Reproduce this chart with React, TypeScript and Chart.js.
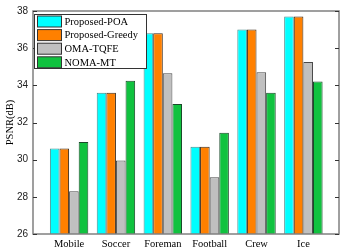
import React, { useEffect, useRef } from 'react';
import { Chart, registerables } from 'chart.js';

Chart.register(...registerables);

const categories = ['Mobile', 'Soccer', 'Foreman', 'Football', 'Crew', 'Ice'];
const seriesLabels = ['Proposed-POA', 'Proposed-Greedy', 'OMA-TQFE', 'NOMA-MT'];
const proposedPOA = [30.6, 33.6, 36.8, 30.7, 37.0, 37.7];
const proposedGreedy = [30.6, 33.6, 36.8, 30.7, 37.0, 37.7];
const omaTQFE = [28.3, 29.95, 34.65, 29.05, 34.7, 35.25];
const nomaMT = [30.95, 34.25, 33.0, 31.45, 33.6, 34.2];
const yTicks = [26, 28, 30, 32, 34, 36, 38];

const colors = ['#00FFFF', '#FF8000', '#C0C0C0', '#10C23F'];
const borders = ['#4a8a8a', '#3a2a1a', '#4a4a4a', '#1a4a2a'];

const framePlugin = {
  id: 'frameAndLegend',
  afterDatasetsDraw(chart: any) {
    const { ctx, chartArea, scales } = chart;
    const { left, right, top, bottom } = chartArea;
    ctx.save();
    // frame
    ctx.strokeStyle = '#808080';
    ctx.lineWidth = 1.5;
    ctx.strokeRect(left, top, right - left, bottom - top);
    // inward ticks
    ctx.strokeStyle = '#333';
    ctx.lineWidth = 1;
    yTicks.forEach((v) => {
      const y = Math.round(scales.y.getPixelForValue(v)) + 0.5;
      ctx.beginPath();
      ctx.moveTo(left, y);
      ctx.lineTo(left + 4, y);
      ctx.moveTo(right, y);
      ctx.lineTo(right - 4, y);
      ctx.stroke();
    });
    // legend
    const lx = left + 1.5;
    const ly = top + 3.5;
    const lw = 112;
    const lh = 54;
    ctx.fillStyle = '#fff';
    ctx.fillRect(lx, ly, lw, lh);
    ctx.strokeStyle = '#333';
    ctx.lineWidth = 1;
    ctx.strokeRect(lx, ly, lw, lh);
    ctx.font = '10.5px "Liberation Serif"';
    ctx.textBaseline = 'middle';
    ctx.textAlign = 'left';
    chart.data.datasets.forEach((ds: any, i: number) => {
      const sy = ly + 1.5 + i * 13.6;
      ctx.fillStyle = ds.backgroundColor;
      ctx.fillRect(lx + 3, sy, 24, 11);
      ctx.strokeStyle = '#333';
      ctx.strokeRect(lx + 3, sy, 24, 11);
      ctx.fillStyle = '#000';
      ctx.fillText(ds.label, lx + 30, sy + 6);
    });
    ctx.restore();
  },
};

export default function App() {
  const ref = useRef<HTMLCanvasElement | null>(null);
  useEffect(() => {
    if (!ref.current) return;
    const series = [proposedPOA, proposedGreedy, omaTQFE, nomaMT];
    const chart = new Chart(ref.current, {
      type: 'bar',
      data: {
        datasets: series.map((vals, k) => ({
          label: seriesLabels[k],
          data: vals.map((y, i) => ({ x: i, y })),
          backgroundColor: colors[k],
          borderColor: borders[k],
          borderWidth: 1,
          base: 26,
          barPercentage: 1,
          categoryPercentage: 0.82,
        })),
      },
      options: {
        animation: false,
        responsive: false,
        devicePixelRatio: 1,
        layout: { padding: { top: 5, right: 4, left: 0, bottom: 0 } },
        plugins: { legend: { display: false }, tooltip: { enabled: false } },
        scales: {
          x: {
            type: 'linear',
            min: -0.77,
            max: 5.76,
            offset: false,
            grid: { display: false, drawTicks: false },
            border: { display: false },
            afterBuildTicks: (a: any) => {
              a.ticks = categories.map((_, i) => ({ value: i }));
            },
            afterFit: (a: any) => {
              a.height = 15;
            },
            ticks: {
              autoSkip: false,
              maxRotation: 0,
              padding: 4,
              color: '#000',
              font: { family: 'Liberation Serif', size: 10.5 },
              callback: (v: any) => categories[v] ?? '',
            },
          },
          y: {
            min: 26,
            max: 38,
            grid: { display: false, drawTicks: false },
            border: { display: false },
            afterBuildTicks: (a: any) => {
              a.ticks = yTicks.map((v) => ({ value: v }));
            },
            afterFit: (a: any) => {
              a.width = 33;
            },
            ticks: {
              padding: 5,
              color: '#222',
              font: { family: 'Liberation Sans', size: 10 },
            },
            title: {
              display: true,
              text: 'PSNR(dB)',
              color: '#000',
              font: { family: 'Liberation Serif', size: 10.5 },
              padding: { top: 4, bottom: 0 },
            },
          },
        },
      },
      plugins: [framePlugin],
    } as any);
    return () => chart.destroy();
  }, []);
  return (
    <div style={{ position: 'fixed', left: 0, top: 0, width: 343, height: 249, background: '#fff' }}>
      <canvas ref={ref} width={343} height={249} />
    </div>
  );
}
